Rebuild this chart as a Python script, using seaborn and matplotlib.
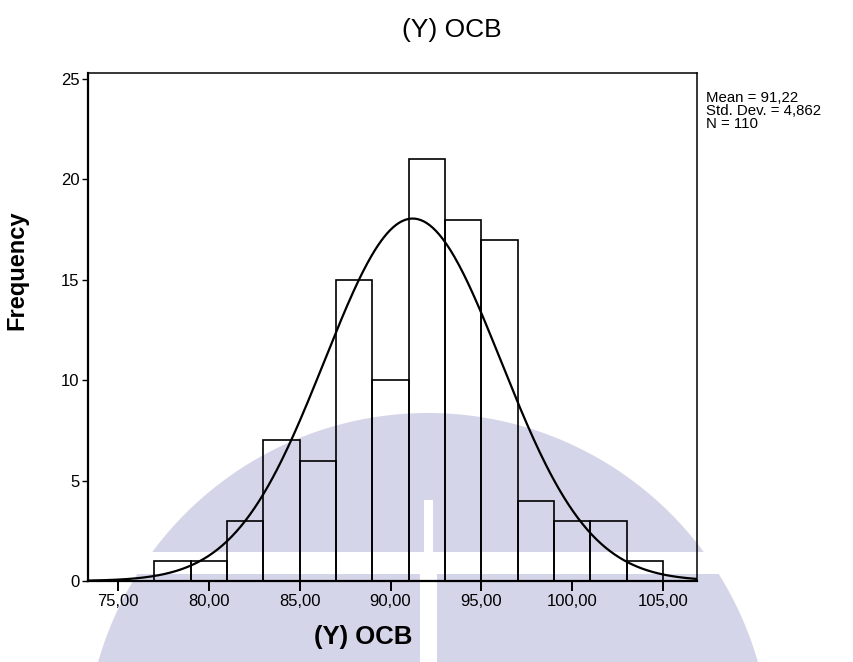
import numpy as np
import pandas as pd
import matplotlib
matplotlib.use("Agg")
import matplotlib.pyplot as plt
import seaborn as sns
from matplotlib.patches import Polygon, Rectangle

# Histogram of (Y) OCB, SPSS style
bin_edges = [77, 79, 81, 83, 85, 87, 89, 91, 93, 95, 97, 99, 101, 103, 105]
bin_counts = [1, 1, 3, 7, 6, 15, 10, 21, 18, 17, 4, 3, 3, 1]
x_ticks = [75, 80, 85, 90, 95, 100, 105]
y_ticks = [0, 5, 10, 15, 20, 25]
mean_value = 91.22
std_dev = 4.862
n_cases = 110

sns.set_style("white")
plt.rcParams['font.family'] = ['Liberation Sans', 'DejaVu Sans']
plt.rcParams['text.color'] = 'black'
plt.rcParams['xtick.color'] = 'black'
plt.rcParams['ytick.color'] = 'black'

W, H = 854, 662
fig = plt.figure(figsize=(W / 100, H / 100), dpi=100)

# faint watermark behind everything (pixel coordinates)
bg = fig.add_axes([0, 0, 1, 1], zorder=0)
bg.set_xlim(0, W)
bg.set_ylim(H, 0)
bg.axis("off")
wm = "#d5d5e9"
cx, cy, r = 428, 756, 343
t = np.linspace(0, 2 * np.pi, 400)
bg.add_patch(Polygon(np.column_stack([cx + r * np.cos(t), cy + r * np.sin(t)]),
                     closed=True, color=wm, lw=0))
bg.add_patch(Rectangle((0, 552), W, 22, color="white", lw=0))
bg.add_patch(Rectangle((424, 500), 9, 52, color="white", lw=0))
bg.add_patch(Rectangle((420, 574), 17, 100, color="white", lw=0))

# main plot area
left, right, top, bottom = 88, 697, 73, 581
ax = fig.add_axes([left / W, 1 - bottom / H, (right - left) / W, (bottom - top) / H], zorder=1)
ax.patch.set_alpha(0)

centers = [(a + b) / 2 for a, b in zip(bin_edges[:-1], bin_edges[1:])]
df = pd.DataFrame({"score": centers, "count": bin_counts})
sns.histplot(data=df, x="score", weights="count", bins=bin_edges, fill=False,
             color="black", linewidth=1.2, ax=ax)

# fitted normal curve scaled to counts
xmin, xmax = 73.35, 106.87
bw = bin_edges[1] - bin_edges[0]
xs = np.linspace(xmin, xmax, 400)
ys = n_cases * bw * np.exp(-0.5 * ((xs - mean_value) / std_dev) ** 2) / (std_dev * np.sqrt(2 * np.pi))
sns.lineplot(x=xs, y=ys, color="black", linewidth=1.6, ax=ax)

ax.set_xlim(xmin, xmax)
ax.set_ylim(0, 25.3)
ax.set_xticks(x_ticks)
ax.set_xticklabels([f"{v},00" for v in x_ticks])
ax.set_yticks(y_ticks)
ax.set_xlabel("")
ax.set_ylabel("")
ax.tick_params(axis="x", length=7, width=1.4, pad=2, labelsize=12, bottom=True)
ax.tick_params(axis="y", length=4, width=1, pad=2, labelsize=12, left=True)
for side in ["left", "bottom"]:
    ax.spines[side].set_linewidth(1.6)
for side in ["top", "right"]:
    ax.spines[side].set_linewidth(1.1)
for s in ax.spines.values():
    s.set_color("black")
    s.set_visible(True)

fig.text(452 / W, 1 - 30 / H, "(Y) OCB", ha="center", va="center", fontsize=19)
fig.text(363 / W, 1 - 637 / H, "(Y) OCB", ha="center", va="center", fontsize=18.5, fontweight="bold")
fig.text(17 / W, 1 - 270 / H, "Frequency", ha="center", va="center", rotation=90,
         fontsize=17, fontweight="bold")
fig.text(706 / W, 1 - 91 / H, "Mean = 91,22\nStd. Dev. = 4,862\nN = 110",
         ha="left", va="top", fontsize=10.8, linespacing=0.92)

fig.savefig("out.png", dpi=100)
